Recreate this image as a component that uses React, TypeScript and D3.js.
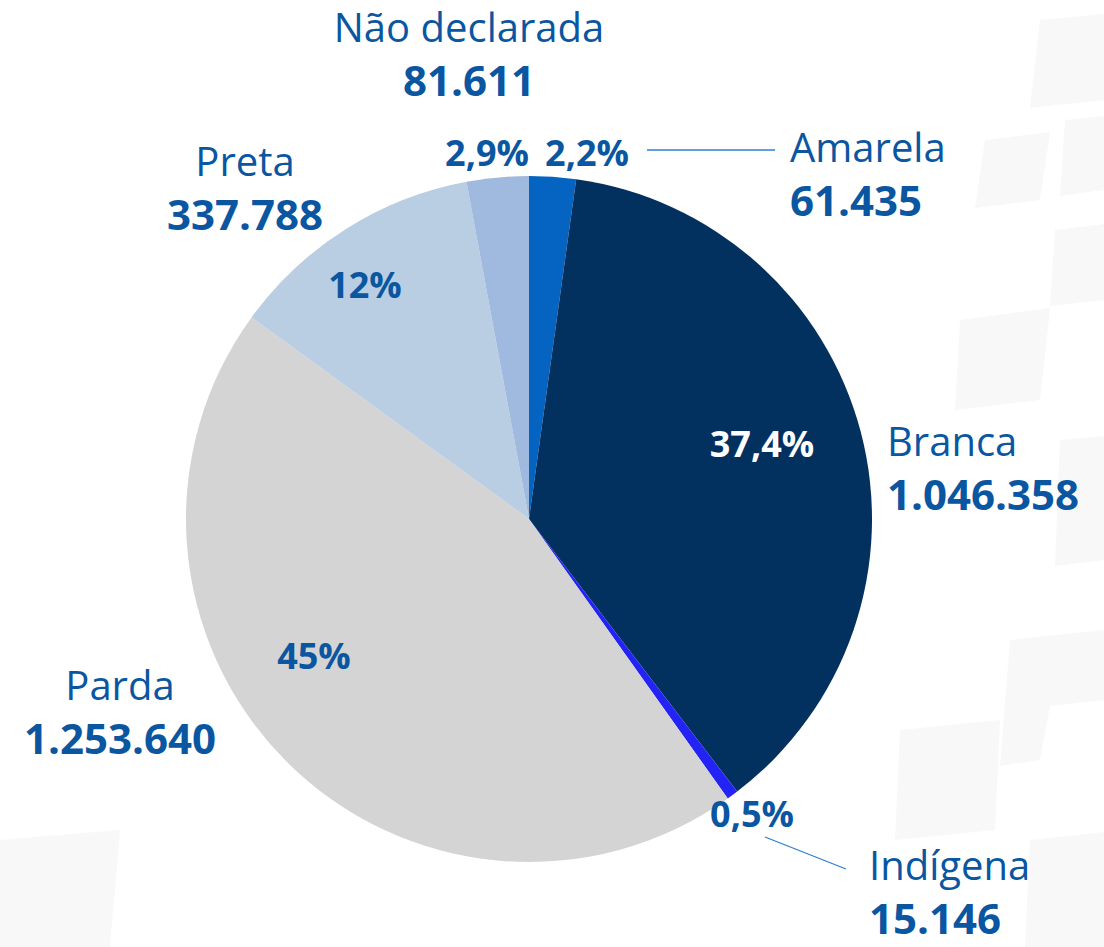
import React from "react";
import * as d3 from "d3";

const categories = ["Amarela", "Branca", "Indígena", "Parda", "Preta", "Não declarada"];
const values = [61435, 1046358, 15146, 1253640, 337788, 81611];
const valueLabels = ["61.435", "1.046.358", "15.146", "1.253.640", "337.788", "81.611"];
const percentLabels = ["2,2%", "37,4%", "0,5%", "45%", "12%", "2,9%"];
const colors = ["#0563c1", "#03315f", "#2323f5", "#d4d4d4", "#b9cee2", "#a0b9de"];

// label layout (annotation placement)
const pctPos: [number, number, string][] = [
  [587, 166, "#0a56a0"],
  [762, 457, "#ffffff"],
  [752, 827, "#0a56a0"],
  [314, 669, "#0a56a0"],
  [365, 298, "#0a56a0"],
  [487, 166, "#0a56a0"],
];
const namePos: [number, number, string][] = [
  [790, 162, "start"],
  [887, 456, "start"],
  [869, 880, "start"],
  [120, 700, "middle"],
  [245, 176, "middle"],
  [469, 42, "middle"],
];

const W = 1104;
const H = 947;
const cx = 529;
const cy = 519;
const R = 343;
const textBlue = "#0a56a0";

export default function App() {
  const pie = d3.pie<number>().sort(null).value((d) => d)(values);
  const arc = d3.arc<d3.PieArcDatum<number>>().innerRadius(0).outerRadius(R);
  return (
    <svg
      width={W}
      height={H}
      style={{ position: "fixed", left: 0, top: 0, background: "#fff" }}
      fontFamily="'Open Sans', sans-serif"
    >
      <rect width={W} height={H} fill="#ffffff" />
      <g fill="#f8f8f8">
        <polygon points="1040,20 1104,14 1104,100 1030,108" />
        <polygon points="985,140 1050,132 1040,200 975,208" />
        <polygon points="1065,120 1104,116 1104,190 1060,196" />
        <polygon points="960,320 1050,308 1040,400 955,410" />
        <polygon points="1055,230 1104,224 1104,300 1050,306" />
        <polygon points="1060,440 1104,436 1104,560 1055,566" />
        <polygon points="1010,640 1104,630 1104,700 1050,706 1040,760 1000,766" />
        <polygon points="900,730 1000,720 995,830 895,840" />
        <polygon points="1030,840 1104,832 1104,947 1025,947" />
        <polygon points="0,840 120,830 110,947 0,947" />
      </g>
      <g transform={`translate(${cx},${cy})`}>
        {pie.map((p, i) => (
          <path key={categories[i]} d={arc(p) || ""} fill={colors[i]} />
        ))}
      </g>
      <line x1={647} y1={150} x2={775} y2={150} stroke="#2f7fd0" strokeWidth={1.3} />
      <line x1={765} y1={837} x2={846} y2={869} stroke="#2f7fd0" strokeWidth={1.3} />
      {pie.map((p, i) => (
        <text
          key={"p" + i}
          x={pctPos[i][0]}
          y={pctPos[i][1]}
          textAnchor="middle"
          fontWeight={700}
          fontSize={36}
          fill={pctPos[i][2]}
        >
          {percentLabels[i]}
        </text>
      ))}
      {categories.map((c, i) => (
        <g key={"n" + i}>
          <text
            x={namePos[i][0]}
            y={namePos[i][1]}
            textAnchor={namePos[i][2] as any}
            fontSize={40}
            fill={textBlue}
          >
            {c}
          </text>
          <text
            x={namePos[i][0]}
            y={namePos[i][1] + 54}
            textAnchor={namePos[i][2] as any}
            fontSize={42}
            fontWeight={700}
            fill={textBlue}
          >
            {valueLabels[i]}
          </text>
        </g>
      ))}
    </svg>
  );
}
